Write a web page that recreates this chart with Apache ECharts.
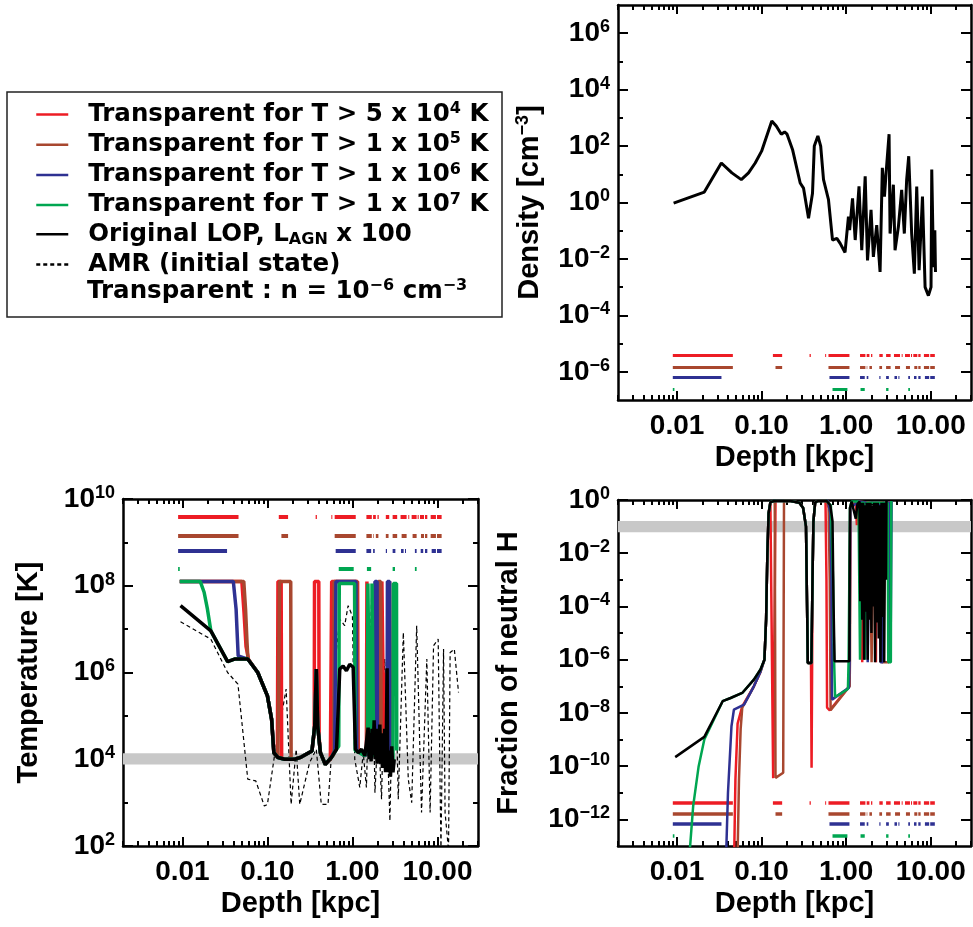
<!DOCTYPE html>
<html><head><meta charset="utf-8">
<script src="https://cdn.jsdelivr.net/npm/echarts@6.0.0/dist/echarts.min.js"></script>
<style>html,body{margin:0;padding:0;background:#fff}#chart{width:973px;height:927px}</style>
</head><body><div id="chart"></div>
<script>
// ---------------- DATA ----------------
// Each pair: [depth in kpc, log10(quantity)]
const seriesNames = {
  red:   'Transparent for T > 5 x 10⁴ K',
  brown: 'Transparent for T > 1 x 10⁵ K',
  blue:  'Transparent for T > 1 x 10⁶ K',
  green: 'Transparent for T > 1 x 10⁷ K',
  lop:   'Original LOP, L_AGN x 100',
  amr:   'AMR (initial state)'
};
const xTickLabels = {'-2':'0.01','-1':'0.10','0':'1.00','1':'10.00'};
const xMajorDepths = [0.01, 0.1, 1, 10];
const densityMajorExp = [-6,-4,-2,0,2,4,6];
const densityMinorExp = [-5,-3,-1,1,3,5];
const tempMajorExp = [2,4,6,8,10];
const tempMinorExp = [3,5,7,9];
const fracMajorExp = [-12,-10,-8,-6,-4,-2,0];
const fracMinorExp = [-11,-9,-7,-5,-3,-1];

// Density panel: log10(n / cm^-3)
const densityLop = [[0.0091,-0.02],[0.021,0.37],[0.0334,1.40],[0.0445,1.05],[0.0575,0.81],[0.070,1.05],[0.084,1.40],[0.100,1.82],[0.132,2.89],[0.149,2.71],[0.171,2.42],[0.187,2.50],[0.200,2.42],[0.232,1.88],[0.286,0.69],[0.313,0.51],[0.359,-0.56],[0.400,0.33],[0.420,2.0],[0.463,2.36],[0.500,2.0],[0.540,0.81],[0.618,0.10],[0.690,-1.33],[0.776,-1.27],[0.850,-1.45],[0.970,-1.77],[1.065,-0.50],[1.10,-0.98],[1.19,0.15],[1.28,-1.33],[1.42,0.57],[1.53,-1.69],[1.68,0.93],[1.79,-2.05],[1.97,-0.26],[2.10,-1.93],[2.30,-0.80],[2.52,-2.46],[2.68,1.23],[2.84,0.21],[2.97,1.05],[3.22,2.42],[3.31,-1.10],[3.62,0.63],[3.79,-1.69],[4.15,-0.86],[4.54,0.45],[4.88,-1.10],[5.20,0.81],[5.50,1.64],[5.96,-1.10],[6.41,-2.52],[6.84,0.57],[7.30,-2.40],[8.00,0.21],[8.59,-3.00],[9.40,-3.30],[10.1,-3.00],[10.3,1.17],[10.8,-2.29],[11.2,-0.98],[11.4,-2.46]];

// Temperature panel: log10(T / K)
const tempLop = [[0.0095,7.54],[0.0216,6.96],[0.034,6.25],[0.041,6.31],[0.0587,6.31],[0.077,6.0],[0.1,5.46],[0.112,4.92],[0.119,4.15],[0.133,4.04],[0.159,4.0],[0.21,4.0],[0.25,4.05],[0.334,4.19],[0.36,4.77],[0.376,6.08],[0.39,4.77],[0.42,4.15],[0.48,3.88],[0.565,4.04],[0.65,4.23],[0.71,6.08],[0.776,6.15],[0.85,6.04],[0.93,6.19],[1.02,6.12],[1.085,4.23],[1.17,4.15],[1.28,4.23],[1.4,4.08],[1.53,4.73],[1.57,4.0],[1.62,4.6],[1.66,3.95],[1.7,4.7],[1.75,4.1],[1.8,4.9],[1.85,4.0],[1.9,4.7],[1.95,3.9],[2.0,4.6],[2.05,4.1],[2.1,4.8],[2.15,3.9],[2.2,4.5],[2.25,3.8],[2.3,4.6],[2.35,4.0],[2.4,4.7],[2.45,3.7],[2.5,4.4],[2.56,6.1],[2.6,3.7],[2.7,4.2],[2.8,3.6],[2.9,4.3],[3.0,3.7],[3.1,4.0]];
const tempAmr = [[0.0095,7.17],[0.0216,6.77],[0.034,6.0],[0.045,5.73],[0.0587,3.54],[0.073,3.5],[0.092,2.92],[0.1,2.96],[0.121,4.08],[0.166,5.62],[0.19,2.96],[0.218,4.23],[0.24,2.96],[0.313,3.92],[0.376,4.23],[0.43,2.96],[0.516,2.96],[0.58,4.38],[0.618,6.15],[0.71,7.23],[0.81,7.08],[0.89,7.54],[1.0,7.3],[1.065,4.0],[1.22,3.35],[1.34,4.15],[1.46,3.35],[1.68,7.73],[1.84,3.23],[2.01,4.77],[2.2,3.08],[2.4,6.31],[2.76,2.58],[3.1,7.46],[3.46,3.08],[3.97,6.92],[4.54,3.54],[4.98,3.0],[5.7,7.08],[6.5,2.77],[7.5,6.31],[8.2,2.77],[9.0,6.62],[10.2,6.77],[11.0,1.9],[11.8,6.54],[12.3,2.77],[13.5,1.9],[14.1,6.46],[15.8,6.54],[17.7,5.54]];
const tempRed = [[0.0093,8.1],[0.05,8.1],[0.053,7.4],[0.056,6.6],[0.06,6.3],[0.077,6.0],[0.1,5.46],[0.112,4.92],[0.119,4.15],[0.131,4.04],[0.133,8.1],[0.145,8.1],[0.147,4.02],[0.21,4.0],[0.25,4.05],[0.334,4.19],[0.355,4.6],[0.358,8.1],[0.402,8.1],[0.406,4.5],[0.42,4.15],[0.48,3.88],[0.55,4.0],[0.57,8.1],[1.15,8.1],[1.17,4.2],[1.4,4.08],[1.46,4.3],[1.48,8.1],[1.52,8.1],[1.54,4.2],[2.2,4.3],[2.22,8.1],[2.27,8.1],[2.29,5.9],[2.37,6.0],[2.39,4.0],[2.9,4.1]];
const tempBrown = [[0.0093,8.1],[0.0527,8.1],[0.0553,7.46],[0.0575,6.7],[0.059,6.31],[0.077,6.0],[0.1,5.46],[0.112,4.92],[0.119,4.15],[0.133,4.04],[0.137,4.04],[0.139,8.1],[0.188,8.1],[0.19,4.0],[0.21,4.0],[0.25,4.05],[0.334,4.19],[0.36,4.77],[0.376,6.08],[0.39,4.77],[0.42,4.15],[0.48,3.88],[0.565,4.04],[0.6,4.1],[0.61,8.1],[1.13,8.1],[1.15,4.2],[1.4,4.08],[2.0,4.3],[2.02,8.1],[2.15,8.1],[2.17,4.2],[2.72,4.2],[2.74,8.1],[2.8,8.1],[2.82,4.0]];
const tempBlue = [[0.0093,8.1],[0.0397,8.1],[0.0428,7.46],[0.0443,6.8],[0.0453,6.38],[0.0587,6.31],[0.077,6.0],[0.1,5.46],[0.112,4.92],[0.119,4.15],[0.133,4.04],[0.159,4.0],[0.21,4.0],[0.25,4.05],[0.334,4.19],[0.36,4.77],[0.376,6.08],[0.39,4.77],[0.42,4.15],[0.48,3.88],[0.565,4.04],[0.62,4.2],[0.64,8.1],[1.1,8.1],[1.12,4.2],[1.4,4.08],[1.82,4.3],[1.84,8.1],[1.95,8.1],[1.97,4.2],[2.55,4.2],[2.58,8.1],[2.74,8.1],[2.76,4.0]];
const tempGreen = [[0.0093,8.1],[0.0162,8.1],[0.018,7.85],[0.0197,7.46],[0.0216,6.96],[0.034,6.25],[0.041,6.31],[0.0587,6.31],[0.077,6.0],[0.1,5.46],[0.112,4.92],[0.119,4.15],[0.133,4.04],[0.159,4.0],[0.21,4.0],[0.25,4.05],[0.334,4.19],[0.36,4.77],[0.376,6.08],[0.39,4.77],[0.42,4.15],[0.48,3.88],[0.565,4.04],[0.65,4.23],[0.69,4.3],[0.70,8.05],[1.06,8.05],[1.075,4.2],[1.4,4.08],[1.5,4.3],[1.52,8.05],[1.58,8.05],[1.6,4.2],[1.68,4.3],[1.7,8.05],[1.76,8.05],[1.78,4.1],[3.0,3.9],[3.03,8.05],[3.3,8.05],[3.32,4.2]];

// Fraction of neutral H panel: log10(x_HI)
const fracLop = [[0.0095,-9.66],[0.021,-8.9],[0.0346,-7.56],[0.043,-7.44],[0.059,-7.25],[0.081,-6.75],[0.097,-6.37],[0.108,-6.0],[0.113,-4.5],[0.117,-2.0],[0.121,-0.5],[0.127,-0.08],[0.14,-0.04],[0.22,-0.04],[0.28,-0.1],[0.31,-0.3],[0.335,-1.0],[0.345,-4.0],[0.352,-6.12],[0.388,-6.12],[0.40,-3.0],[0.41,-0.8],[0.43,-0.1],[0.46,-0.04],[0.59,-0.04],[0.65,-0.2],[0.69,-0.8],[0.71,-4.0],[0.73,-6.06],[1.09,-6.06],[1.11,-0.3],[1.16,-0.06],[1.22,-0.1],[1.3,-0.7],[1.36,-0.15],[1.44,-0.06],[1.47,-3.8],[1.51,-0.1],[1.55,-4.5],[1.59,-0.1],[1.63,-6.0],[1.67,-0.2],[1.71,-4.2],[1.75,-0.1],[1.8,-6.0],[1.84,-0.1],[1.89,-4.5],[1.94,-0.1],[1.99,-5.0],[2.04,-0.2],[2.09,-4.0],[2.14,-0.1],[2.2,-6.1],[2.25,-0.1],[2.31,-4.6],[2.37,-0.1],[2.43,-5.2],[2.49,-0.2],[2.55,-6.1],[2.62,-0.1],[2.68,-4.4],[2.75,-0.1],[2.82,-6.1],[2.89,-0.1],[2.96,-3.0],[3.0,-0.04]];
const fracRed = [[0.047,-14],[0.049,-10.5],[0.052,-8.4],[0.059,-7.75],[0.081,-7.0],[0.097,-6.45],[0.108,-6.0],[0.113,-4.5],[0.117,-2.0],[0.121,-0.5],[0.127,-0.08],[0.134,-0.04],[0.137,-10.45],[0.143,-10.45],[0.146,-0.04],[0.22,-0.04],[0.28,-0.1],[0.31,-0.3],[0.335,-1.0],[0.345,-4.0],[0.352,-6.12],[0.384,-6.12],[0.39,-10.06],[0.396,-6.12],[0.40,-3.0],[0.41,-0.8],[0.43,-0.1],[0.46,-0.04],[0.57,-0.04],[0.585,-3.0],[0.595,-7.8],[0.62,-7.8],[0.64,-7.9],[1.09,-7.0],[1.1,-6.0],[1.12,-0.3],[1.3,-0.06],[1.34,-0.95],[1.37,-0.06],[1.5,-0.1],[1.55,-6.1],[1.58,-0.1],[2.2,-0.1],[2.25,-6.1],[2.3,-0.1],[2.7,-0.1],[2.75,-6.1],[2.85,-6.1],[2.9,-0.04]];
const fracBrown = [[0.0515,-14],[0.054,-10.5],[0.0565,-8.6],[0.059,-7.8],[0.081,-7.0],[0.097,-6.45],[0.108,-6.0],[0.113,-4.5],[0.117,-2.0],[0.121,-0.5],[0.127,-0.08],[0.143,-0.04],[0.146,-10.44],[0.18,-10.25],[0.184,-0.04],[0.22,-0.04],[0.28,-0.1],[0.31,-0.3],[0.335,-1.0],[0.345,-4.0],[0.352,-6.12],[0.388,-6.12],[0.40,-3.0],[0.41,-0.8],[0.43,-0.1],[0.46,-0.04],[0.59,-0.04],[0.62,-0.3],[0.64,-3.0],[0.655,-7.9],[1.1,-7.0],[1.11,-6.0],[1.12,-0.3],[1.4,-0.06],[1.9,-0.1],[2.0,-6.1],[2.1,-6.1],[2.15,-0.1],[2.6,-0.1],[2.65,-6.1],[3.2,-6.1],[3.25,-0.04]];
const fracBlue = [[0.0375,-14],[0.04,-11],[0.044,-8.5],[0.047,-7.88],[0.062,-7.69],[0.081,-7.0],[0.097,-6.45],[0.108,-6.0],[0.113,-4.5],[0.117,-2.0],[0.121,-0.5],[0.127,-0.08],[0.14,-0.04],[0.22,-0.04],[0.28,-0.1],[0.31,-0.3],[0.335,-1.0],[0.345,-4.0],[0.352,-6.12],[0.388,-6.12],[0.40,-3.0],[0.41,-0.8],[0.43,-0.1],[0.46,-0.04],[0.61,-0.04],[0.65,-0.5],[0.67,-3.0],[0.68,-7.5],[1.08,-7.05],[1.1,-6.0],[1.12,-0.3],[1.4,-0.06],[1.75,-0.1],[1.8,-6.1],[1.85,-6.1],[1.9,-0.1],[2.5,-0.1],[2.55,-6.1],[2.7,-6.1],[2.75,-0.1],[3.3,-0.1],[3.35,-6.1],[3.42,-6.1],[3.45,-0.04]];
const fracGreen = [[0.0135,-14],[0.0155,-11.5],[0.018,-10.0],[0.021,-9.0],[0.0346,-7.56],[0.043,-7.44],[0.059,-7.25],[0.081,-6.75],[0.097,-6.37],[0.108,-6.0],[0.113,-4.5],[0.117,-2.0],[0.121,-0.5],[0.127,-0.08],[0.14,-0.04],[0.22,-0.04],[0.28,-0.1],[0.31,-0.3],[0.335,-1.0],[0.345,-4.0],[0.352,-6.12],[0.388,-6.12],[0.40,-3.0],[0.41,-0.8],[0.43,-0.1],[0.46,-0.04],[0.59,-0.04],[0.66,-0.2],[0.70,-3.0],[0.72,-6.0],[0.74,-7.4],[1.05,-7.1],[1.07,-6.0],[1.09,-3.0],[1.11,-0.3],[1.16,-0.06],[1.4,-0.06],[1.46,-6.0],[1.5,-6.0],[1.53,-0.1],[1.62,-0.1],[1.66,-6.0],[1.72,-6.0],[1.75,-0.1],[3.1,-0.1],[3.15,-6.1],[3.38,-6.1],[3.42,-0.04]];

// Depth intervals (kpc) of transparent cells for each case
const segRed = [[0.0089,0.0457],[0.136,0.175],[0.369,0.382],[0.565,0.58],[0.618,1.094],[1.46,1.69],[1.75,1.885],[1.97,2.04],[2.47,2.71],[2.97,3.36],[3.68,4.34],[4.54,4.66],[4.97,5.69],[5.85,6.02],[6.23,6.95],[7.14,7.6],[8.32,9.6],[9.88,11.2]];
const segBrown = [[0.0089,0.0457],[0.146,0.175],[0.618,1.094],[1.46,1.69],[1.75,1.78],[1.885,2.02],[2.47,2.66],[2.97,3.36],[3.79,4.34],[5.1,5.69],[6.4,6.95],[7.14,7.6],[8.32,9.6],[9.88,11.2]];
const segBlue = [[0.0089,0.0335],[0.635,1.094],[1.46,1.66],[1.75,1.83],[2.47,2.55],[2.97,3.2],[3.73,4.0],[4.15,4.27],[5.43,5.69],[6.35,6.8],[7.14,7.6],[8.55,9.6],[9.88,11.2]];
const segGreen = [[0.0089,0.0093],[0.69,1.035],[1.48,1.66],[2.97,3.17],[5.43,5.69]];
// log10 levels at which the interval rows are drawn in each panel
const segLevelsDensity = {red:-5.4, brown:-5.83, blue:-6.18, green:-6.61};
const segLevelsTemp = {red:9.585, brown:9.15, blue:8.8, green:8.39};
const segLevelsFrac = {red:-11.36, brown:-11.77, blue:-12.15, green:-12.6};
// grey reference bands (log10)
const tempBand = [3.88, 4.14];
const fracBand = [-1.21, -0.79];

// ---------------- CHART ----------------
const FONT = 'Liberation Sans';
const LFONT = 'DejaVu Sans';
const COL = {red:'#ed1c24', brown:'#a8472f', blue:'#2e3192', green:'#00a651', lop:'#000', amr:'#000'};
const L10 = Math.log10;
const XMIN = L10(0.002), XMAX = L10(30);
const xMajor = xMajorDepths.map(L10);
const xMinor = [];
for (let k = -3; k <= 1; k++) for (let m = 2; m <= 9; m++) {
  const v = L10(m) + k; if (v > XMIN - 1e-9 && v < XMAX + 1e-9) xMinor.push(v);
}
const tickLine = {color:'#000', width:2};
const frameLine = {show:true, onZero:false, lineStyle:{color:'#000', width:2.5}};
const hiddenLine = {show:false, onZero:false};
const expStr = e => (e < 0 ? '−' + (-e) : '' + e);
const yLabelRich = {
  b:{fontFamily:FONT, fontWeight:'bold', fontSize:28, lineHeight:30, color:'#000'},
  s:{fontFamily:FONT, fontWeight:'bold', fontSize:18, lineHeight:18, verticalAlign:'top', color:'#000'}
};
const nameRich = {
  t:{fontFamily:FONT, fontWeight:'bold', fontSize:29, lineHeight:32, color:'#000'},
  s:{fontFamily:FONT, fontWeight:'bold', fontSize:18, lineHeight:18, verticalAlign:'top', color:'#000'}
};

function makeX(g) {
  const base = {type:'value', gridIndex:g, min:XMIN, max:XMAX, splitLine:{show:false}};
  return [
    Object.assign({}, base, {position:'bottom', axisLine:frameLine,
      axisTick:{show:true, inside:true, length:9, customValues:xMajor, lineStyle:tickLine},
      axisLabel:{show:true, customValues:xMajor, margin:12, formatter:v => xTickLabels[String(Math.round(v))],
        fontFamily:FONT, fontWeight:'bold', fontSize:28, color:'#000'},
      name:'Depth [kpc]', nameLocation:'middle', nameGap:43,
      nameTextStyle:{fontFamily:FONT, fontWeight:'bold', fontSize:29, color:'#000'}}),
    Object.assign({}, base, {position:'bottom', axisLine:hiddenLine,
      axisTick:{show:true, inside:true, length:5, customValues:xMinor, lineStyle:tickLine}, axisLabel:{show:false}}),
    Object.assign({}, base, {position:'top', axisLine:frameLine,
      axisTick:{show:true, inside:true, length:9, customValues:xMajor, lineStyle:tickLine}, axisLabel:{show:false}}),
    Object.assign({}, base, {position:'top', axisLine:hiddenLine,
      axisTick:{show:true, inside:true, length:5, customValues:xMinor, lineStyle:tickLine}, axisLabel:{show:false}})
  ];
}
function makeY(g, min, max, major, minor, name, gap) {
  const base = {type:'value', gridIndex:g, min:min, max:max, splitLine:{show:false}};
  return [
    Object.assign({}, base, {position:'left', axisLine:frameLine,
      axisTick:{show:true, inside:true, length:10, customValues:major, lineStyle:tickLine},
      axisLabel:{show:true, customValues:major, margin:8, formatter:v => '{b|10}{s|' + expStr(Math.round(v)) + '}', rich:yLabelRich},
      name:name, nameLocation:'middle', nameGap:gap, nameTextStyle:{rich:nameRich}}),
    Object.assign({}, base, {position:'left', axisLine:hiddenLine,
      axisTick:{show:true, inside:true, length:5, customValues:minor, lineStyle:tickLine}, axisLabel:{show:false}}),
    Object.assign({}, base, {position:'right', axisLine:frameLine,
      axisTick:{show:true, inside:true, length:10, customValues:major, lineStyle:tickLine}, axisLabel:{show:false}}),
    Object.assign({}, base, {position:'right', axisLine:hiddenLine,
      axisTick:{show:true, inside:true, length:5, customValues:minor, lineStyle:tickLine}, axisLabel:{show:false}})
  ];
}

const toXY = arr => arr.map(p => [L10(p[0]), p[1]]);
function lineSeries(key, g, data, width, z, extra) {
  return Object.assign({
    type:'line', name:seriesNames[key], xAxisIndex:4*g, yAxisIndex:4*g,
    data:toXY(data), showSymbol:false, symbol:'none', clip:true, z:z, silent:true,
    lineStyle:{color:COL[key], width:width}, itemStyle:{color:COL[key]}
  }, extra || {});
}
function segSeries(key, g, intervals, level, width) {
  return {
    type:'lines', name:seriesNames[key], coordinateSystem:'cartesian2d', xAxisIndex:4*g, yAxisIndex:4*g,
    polyline:false, silent:true, z:3,
    lineStyle:{color:COL[key], width:width, opacity:1, curveness:0},
    data:intervals.map(iv => ({coords:[[L10(iv[0]), level], [L10(iv[1]), level]]}))
  };
}
const segs = {red:segRed, brown:segBrown, blue:segBlue, green:segGreen};

const series = [];
// Temperature panel (grid 1)
series.push(lineSeries('amr', 1, tempAmr, 1.2, 1, {lineStyle:{color:'#000', width:1.2, type:[4,3]},
  markArea:{silent:true, z:1, itemStyle:{color:'#c8c8c8'}, data:[[{yAxis:tempBand[0]}, {yAxis:tempBand[1]}]]}}));
series.push(lineSeries('red', 1, tempRed, 3.5, 3));
series.push(lineSeries('brown', 1, tempBrown, 3.5, 3));
series.push(lineSeries('blue', 1, tempBlue, 3.5, 3));
series.push(lineSeries('green', 1, tempGreen, 3.5, 3));
series.push(lineSeries('lop', 1, tempLop, 3.5, 4));
// Density panel (grid 0)
series.push(lineSeries('lop', 0, densityLop, 3, 4));
// Fraction panel (grid 2)
series.push(lineSeries('red', 2, fracRed, 2.5, 3));
series.push(lineSeries('brown', 2, fracBrown, 2.5, 3));
series.push(lineSeries('blue', 2, fracBlue, 2.5, 3));
series.push(lineSeries('green', 2, fracGreen, 2.5, 3));
series.push(lineSeries('lop', 2, fracLop, 2.5, 4, {
  markArea:{silent:true, z:1, itemStyle:{color:'#c8c8c8'}, data:[[{yAxis:fracBand[0]}, {yAxis:fracBand[1]}]]}}));
// interval rows
['red','brown','blue','green'].forEach(k => {
  series.push(segSeries(k, 0, segs[k], segLevelsDensity[k], 3));
  series.push(segSeries(k, 1, segs[k], segLevelsTemp[k], 4));
  series.push(segSeries(k, 2, segs[k], segLevelsFrac[k], 3.5));
});

const legendRichText = {};
legendRichText[seriesNames.red]   = '{t|Transparent for T > 5 x 10}{s|4}{t| K}';
legendRichText[seriesNames.brown] = '{t|Transparent for T > 1 x 10}{s|5}{t| K}';
legendRichText[seriesNames.blue]  = '{t|Transparent for T > 1 x 10}{s|6}{t| K}';
legendRichText[seriesNames.green] = '{t|Transparent for T > 1 x 10}{s|7}{t| K}';
legendRichText[seriesNames.lop]   = '{t|Original LOP, L}{u|AGN}{t| x 100}';
legendRichText[seriesNames.amr]   = '{t|AMR (initial state)}';
const legRich = {
  t:{fontFamily:LFONT, fontWeight:'bold', fontSize:24.5, lineHeight:27, color:'#000'},
  s:{fontFamily:LFONT, fontWeight:'bold', fontSize:16, lineHeight:16, verticalAlign:'top', color:'#000'},
  u:{fontFamily:LFONT, fontWeight:'bold', fontSize:16, lineHeight:12, verticalAlign:'bottom', color:'#000'}
};

const option = {
  animation:false,
  backgroundColor:'#fff',
  grid:[
    {left:618, top:5, width:353, height:395},
    {left:123, top:499, width:355, height:347},
    {left:618, top:500, width:353, height:346}
  ],
  xAxis:[].concat(makeX(0), makeX(1), makeX(2)),
  yAxis:[].concat(
    makeY(0, -7, 7, densityMajorExp, densityMinorExp, '{t|Density [cm}{s|−3}{t|]}', 72),
    makeY(1, 2, 10, tempMajorExp, tempMinorExp, '{t|Temperature [K]}', 78),
    makeY(2, -13, 0, fracMajorExp, fracMinorExp, '{t|Fraction of neutral H}', 93)
  ),
  legend:{
    show:true, orient:'vertical', left:35, top:101, padding:0,
    itemWidth:32, itemHeight:14, itemGap:4.2, selectedMode:false,
    data:[seriesNames.red, seriesNames.brown, seriesNames.blue, seriesNames.green, seriesNames.lop, seriesNames.amr],
    formatter:n => legendRichText[n],
    lineStyle:{width:2.5},
    itemStyle:{opacity:0},
    textStyle:{padding:[0,0,0,15], fontFamily:LFONT, fontWeight:'bold', fontSize:24.5, color:'#000', rich:legRich}
  },
  graphic:[
    {type:'rect', shape:{x:7, y:92, width:495, height:225}, style:{fill:'none', stroke:'#222', lineWidth:1.5}, silent:true},
    {type:'text', left:87, top:278, silent:true,
      style:{text:'{t|Transparent : n = 10}{s|−6}{t| cm}{s|−3}', rich:legRich, fill:'#000'}}
  ],
  series:series
};
const chart = echarts.init(document.getElementById('chart'), null, {renderer:'canvas'});
chart.setOption(option);
</script></body></html>
